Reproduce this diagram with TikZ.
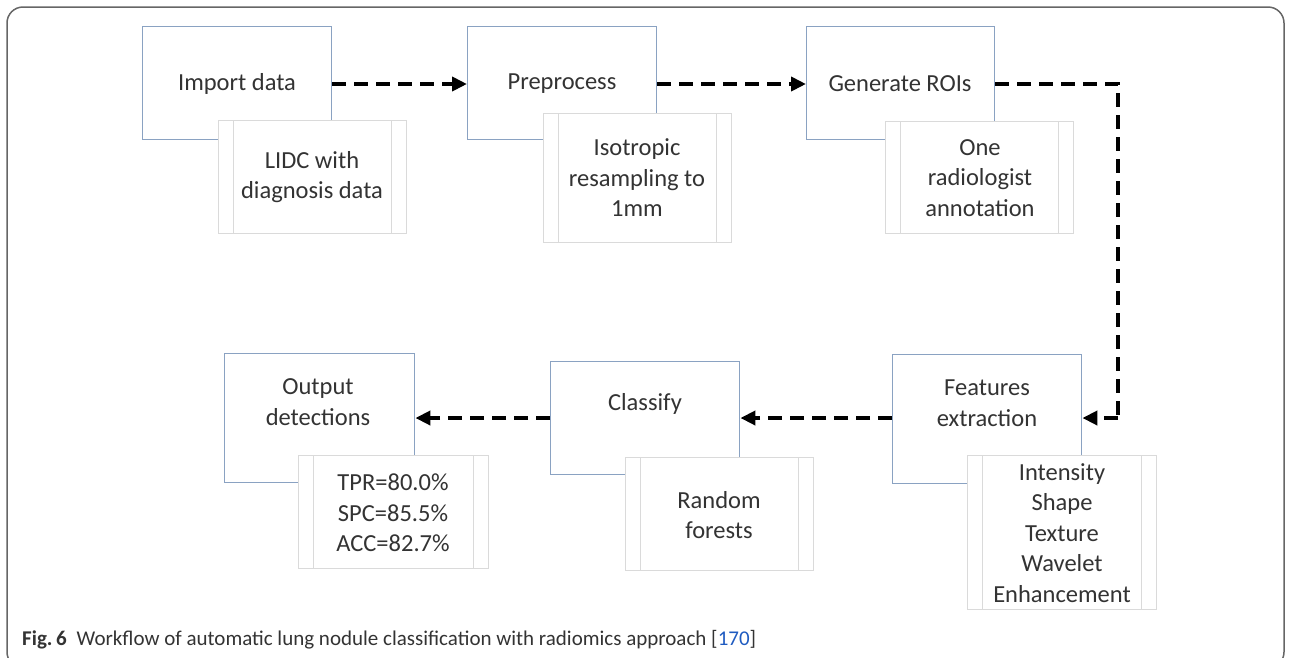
\documentclass[tikz,border=0pt]{standalone}
\usepackage{fontspec}
\setmainfont{Carlito}
\usetikzlibrary{arrows.meta}
\definecolor{boxblue}{HTML}{8AA2C2}
\definecolor{subgray}{HTML}{DADADA}
\definecolor{txt}{HTML}{333333}
\definecolor{refblue}{HTML}{1F5BC0}
\begin{document}
\begin{tikzpicture}[x=1pt,y=-1pt,
  mainbox/.style={draw=boxblue,line width=1.4pt,fill=white,inner sep=0pt,anchor=north west},
  subbox/.style={draw=subgray,line width=1.2pt,fill=white,inner sep=0pt,anchor=north west,
    path picture={
      \draw[subgray,line width=1.2pt] ([xshift=15pt]path picture bounding box.south west) -- ([xshift=15pt]path picture bounding box.north west);
      \draw[subgray,line width=1.2pt] ([xshift=-15pt]path picture bounding box.south east) -- ([xshift=-15pt]path picture bounding box.north east);
    }},
  lbl/.style={text=txt,font=\fontsize{24.5}{30.5}\selectfont,align=center,inner sep=0pt},
  flow/.style={line width=3.8pt,dash pattern=on 14pt off 8pt,-{Triangle[length=15pt,width=14pt]}},
  flowplain/.style={line width=3.8pt,dash pattern=on 14pt off 8pt}
]
\useasboundingbox (0,0) rectangle (1291,657);
\begin{scope}
\clip (0,0) rectangle (1291,657);
\draw[gray!80!black,line width=1.5pt,rounded corners=16pt] (7,7) rectangle (1284,668);
\end{scope}

% main boxes
\node[mainbox,minimum width=189pt,minimum height=113pt] (b1) at (142,26) {};
\node[mainbox,minimum width=189pt,minimum height=113pt] (b2) at (467,26) {};
\node[mainbox,minimum width=188pt,minimum height=113pt] (b3) at (806,26) {};
\node[mainbox,minimum width=189pt,minimum height=129pt] (b4) at (892,354) {};
\node[mainbox,minimum width=189pt,minimum height=113pt] (b5) at (550,361) {};
\node[mainbox,minimum width=190pt,minimum height=129pt] (b6) at (224,353) {};

% sub boxes
\node[subbox,minimum width=188pt,minimum height=113pt] (s1) at (218,120) {};
\node[subbox,minimum width=188pt,minimum height=129pt] (s2) at (543,113) {};
\node[subbox,minimum width=188pt,minimum height=112pt] (s3) at (885,121) {};
\node[subbox,minimum width=189pt,minimum height=154pt] (s4) at (967,455) {};
\node[subbox,minimum width=188pt,minimum height=113pt] (s5) at (625,457) {};
\node[subbox,minimum width=190pt,minimum height=113pt] (s6) at (298,455) {};

% main labels
\node[lbl] (t1) at (237,84) {Import data};
\node[lbl] (t2) at (562,84) {Preprocess};
\node[lbl] (t3) at (900,84) {Generate ROIs};
\node[lbl] (t4) at (987,403) {Features\\extraction};
\node[lbl] (t5) at (645,404) {Classify};
\node[lbl] (t6) at (318,402) {Output\\detections};

% sub labels
\node[lbl] (u1) at (312,177) {LIDC with\\diagnosis data};
\node[lbl] (u2) at (637,178) {Isotropic\\resampling to\\1mm};
\node[lbl] (u3) at (980,178) {One\\radiologist\\annotation};
\node[lbl] (u4) at (1062,533) {Intensity\\Shape\\Texture\\Wavelet\\Enhancement};
\node[lbl] (u5) at (719,515) {Random\\forests};
\node[lbl] (u6) at (393,513) {TPR=80.0\%\\SPC=85.5\%\\ACC=82.7\%};

% connectors
\coordinate (c1) at (1118,84);
\coordinate (c2) at (1118,418);
\draw[flow] (b1.east |- t1) -- (b2.west |- t1);
\draw[flow] (b2.east |- t2) -- (b3.west |- t3);
\draw[flowplain] (b3.east |- t3) -- (c1) -- (c2);
\draw[flow] (c2) -- (b4.east |- c2);
\draw[flow] (b4.west |- c2) -- (b5.east |- c2);
\draw[flow] (b5.west |- c2) -- (b6.east |- c2);

% caption
\node[anchor=base west,inner sep=0pt,text=txt,font=\fontsize{21}{25}\selectfont] (cap) at (22,645)
  {\textbf{Fig.\,6}\hspace{10pt}Workflow of automatic lung nodule classification with radiomics approach [\textcolor{refblue}{170}]};
\end{tikzpicture}
\end{document}
